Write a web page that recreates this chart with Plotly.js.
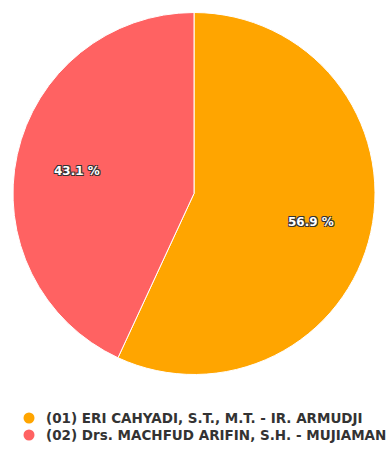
<!DOCTYPE html>
<html>
<head>
<meta charset="utf-8">
<script src="https://cdn.plot.ly/plotly-3.0.1.min.js"></script>
<style>html,body{margin:0;padding:0;background:#fff;}#chart{width:388px;height:450px;}</style>
</head>
<body>
<div id="chart"></div>
<script>
const candidates = ["(01) ERI CAHYADI, S.T., M.T. - IR. ARMUDJI", "(02) Drs. MACHFUD ARIFIN, S.H. - MUJIAMAN"];
const shares = [56.9, 43.1];
const colors = ["#FFA500", "#FF6262"];

const W = 388, H = 450;
const cx = 194, cy = 193.5, R = 181;

const pieTrace = {
  type: "pie",
  labels: candidates,
  values: shares,
  sort: false,
  direction: "clockwise",
  rotation: 0,
  marker: {colors: colors, line: {color: "#ffffff", width: 1}},
  textinfo: "none",
  showlegend: false,
  hoverinfo: "label+percent",
  domain: {x: [(cx - R) / W, (cx + R) / W], y: [1 - (cy + R) / H, 1 - (cy - R) / H]}
};

// slice labels placed at each slice's mid-angle, derived from the data
const total = shares.reduce((a, b) => a + b, 0);
let cum = 0;
const annotations = [];
shares.forEach((v, i) => {
  const mid = (cum + v / 2) / total * 2 * Math.PI;
  cum += v;
  const rr = 0.66 * R;
  annotations.push({
    xref: "paper", yref: "paper",
    x: (cx + rr * Math.sin(mid)) / W, y: 1 - (cy - rr * Math.cos(mid)) / H,
    xanchor: "center", yanchor: "middle", showarrow: false, yshift: -3,
    text: v.toFixed(1) + " %",
    font: {family: "DejaVu Sans", size: 12, color: "#ffffff", weight: "bold",
      shadow: "-1px -1px 0 #333, 1px -1px 0 #333, -1px 1px 0 #333, 1px 1px 0 #333"}
  });
});

// legend built as text + circle symbols
const shapes = [];
candidates.forEach((c, i) => {
  const ly = 418 + 17 * i;
  annotations.push({
    xref: "paper", yref: "paper", x: 44 / W, y: 1 - ly / H,
    xanchor: "left", yanchor: "middle", showarrow: false, text: c,
    font: {family: "DejaVu Sans", size: 13.5, color: "#333333", weight: "bold"}
  });
  shapes.push({
    type: "circle", xref: "paper", yref: "paper",
    x0: 23.5 / W, x1: 34.5 / W, y0: 1 - (ly + 5.5) / H, y1: 1 - (ly - 5.5) / H,
    fillcolor: colors[i], line: {width: 0}
  });
});

const layout = {
  width: W, height: H,
  margin: {l: 0, r: 0, t: 0, b: 0},
  paper_bgcolor: "#ffffff", plot_bgcolor: "#ffffff",
  showlegend: false,
  annotations: annotations,
  shapes: shapes
};

Plotly.newPlot("chart", [pieTrace], layout, {displayModeBar: false, staticPlot: true});
</script>
</body>
</html>
